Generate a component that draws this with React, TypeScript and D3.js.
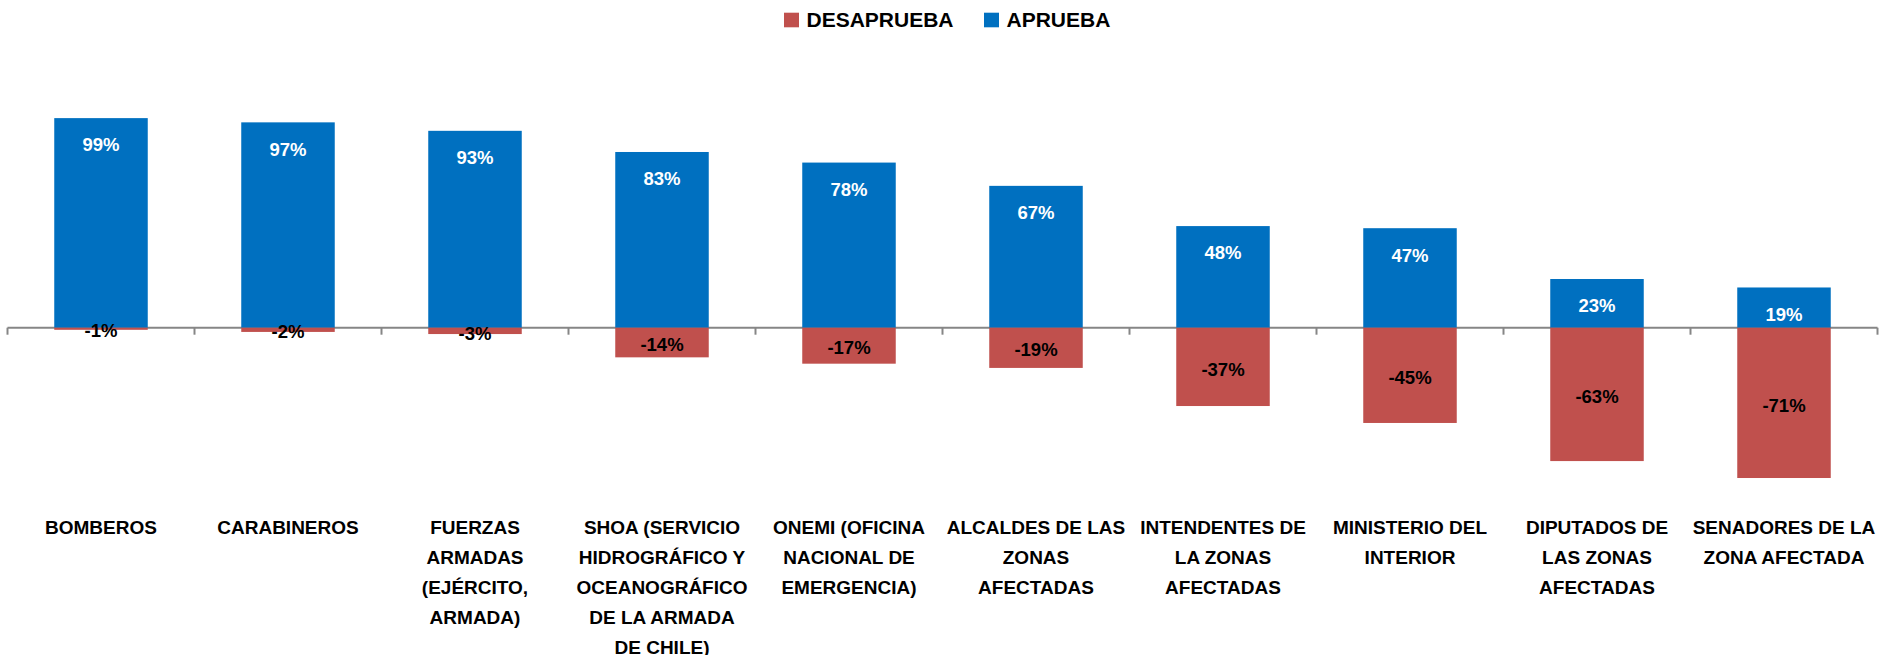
import React, { useRef, useEffect } from 'react';
import * as d3 from 'd3';

const categories = [
  'BOMBEROS',
  'CARABINEROS',
  'FUERZAS ARMADAS (EJÉRCITO, ARMADA)',
  'SHOA (SERVICIO HIDROGRÁFICO Y OCEANOGRÁFICO DE LA ARMADA DE CHILE)',
  'ONEMI (OFICINA NACIONAL DE EMERGENCIA)',
  'ALCALDES DE LAS ZONAS AFECTADAS',
  'INTENDENTES DE LA ZONAS AFECTADAS',
  'MINISTERIO DEL INTERIOR',
  'DIPUTADOS DE LAS ZONAS AFECTADAS',
  'SENADORES DE LA ZONA AFECTADA',
];

// wrapped tick labels, as they break in the picture
const tickLines = [
  ['BOMBEROS'],
  ['CARABINEROS'],
  ['FUERZAS', 'ARMADAS', '(EJÉRCITO,', 'ARMADA)'],
  ['SHOA (SERVICIO', 'HIDROGRÁFICO Y', 'OCEANOGRÁFICO', 'DE LA ARMADA', 'DE CHILE)'],
  ['ONEMI (OFICINA', 'NACIONAL DE', 'EMERGENCIA)'],
  ['ALCALDES DE LAS', 'ZONAS', 'AFECTADAS'],
  ['INTENDENTES DE', 'LA ZONAS', 'AFECTADAS'],
  ['MINISTERIO DEL', 'INTERIOR'],
  ['DIPUTADOS DE', 'LAS ZONAS', 'AFECTADAS'],
  ['SENADORES DE LA', 'ZONA AFECTADA'],
];

const aprueba = [99, 97, 93, 83, 78, 67, 48, 47, 23, 19];
const desaprueba = [-1, -2, -3, -14, -17, -19, -37, -45, -63, -71];

const seriesNames = ['DESAPRUEBA', 'APRUEBA'];
const BLUE = '#0070C0';
const RED = '#C0504D';

function App() {
  const svgRef = useRef<SVGSVGElement>(null);

  useEffect(() => {
    const width = 1879;
    const height = 655;
    const font = "'Liberation Sans', Arial, sans-serif";

    const svg = d3.select(svgRef.current);
    svg.selectAll('*').remove();
    svg.attr('width', width).attr('height', height).attr('viewBox', [0, 0, width, height]);

    const x = d3.scaleBand<number>()
      .domain(d3.range(categories.length))
      .range([7.5, 1877.5])
      .paddingInner(0.5)
      .paddingOuter(0.25);

    const y = d3.scaleLinear()
      .domain([-80, 100])
      .range([327.7 + 80 * 2.117, 327.7 - 100 * 2.117]);

    const step = x.step();
    const bw = x.bandwidth();
    const edge = (i: number) => (x(i) as number) - (step - bw) / 2;

    // axis line + ticks
    const axis = svg.append('g').attr('stroke', '#868686').attr('stroke-width', 2);
    axis.append('line')
      .attr('x1', edge(0)).attr('x2', edge(categories.length - 1) + step)
      .attr('y1', y(0)).attr('y2', y(0));
    axis.selectAll('line.tick')
      .data(d3.range(categories.length + 1))
      .join('line')
      .attr('class', 'tick')
      .attr('x1', i => (i < categories.length ? edge(i) : edge(i - 1) + step))
      .attr('x2', i => (i < categories.length ? edge(i) : edge(i - 1) + step))
      .attr('y1', y(0)).attr('y2', y(0) + 7);

    // positive bars
    svg.append('g').attr('fill', BLUE)
      .selectAll('rect')
      .data(aprueba)
      .join('rect')
      .attr('x', (d, i) => x(i) as number)
      .attr('width', bw)
      .attr('y', d => y(d))
      .attr('height', d => y(0) - y(d));

    // negative bars
    svg.append('g').attr('fill', RED)
      .selectAll('rect')
      .data(desaprueba)
      .join('rect')
      .attr('x', (d, i) => x(i) as number)
      .attr('width', bw)
      .attr('y', y(0))
      .attr('height', d => y(d) - y(0));

    // labels
    svg.append('g')
      .attr('text-anchor', 'middle')
      .attr('font-family', font)
      .attr('font-weight', 'bold')
      .attr('font-size', 18.5)
      .attr('fill', '#fff')
      .selectAll('text')
      .data(aprueba)
      .join('text')
      .attr('x', (d, i) => (x(i) as number) + bw / 2)
      .attr('y', d => y(d) + 26.7)
      .attr('dy', '0.36em')
      .text(d => `${d}%`);

    svg.append('g')
      .attr('text-anchor', 'middle')
      .attr('font-family', font)
      .attr('font-weight', 'bold')
      .attr('font-size', 18.5)
      .attr('fill', '#000')
      .selectAll('text')
      .data(desaprueba)
      .join('text')
      .attr('x', (d, i) => (x(i) as number) + bw / 2)
      .attr('y', d => (y(0) + y(d)) / 2 + 2)
      .attr('dy', '0.36em')
      .text(d => `${d}%`);

    // category labels
    const cat = svg.append('g')
      .attr('text-anchor', 'middle')
      .attr('font-family', font)
      .attr('font-weight', 'bold')
      .attr('font-size', 19)
      .attr('fill', '#000');
    tickLines.forEach((lines, i) => {
      const cx = (x(i) as number) + bw / 2;
      cat.append('g')
        .selectAll('text')
        .data(lines)
        .join('text')
        .attr('x', cx)
        .attr('y', (d, k) => 527.5 + k * 30)
        .attr('dy', '0.36em')
        .text(d => d);
    });

    // legend
    const legend = svg.append('g')
      .attr('font-family', font)
      .attr('font-weight', 'bold')
      .attr('font-size', 21);
    const legendX = [784, 984];
    const legendColors = [RED, BLUE];
    seriesNames.forEach((name, i) => {
      legend.append('rect')
        .attr('x', legendX[i]).attr('y', 12.7)
        .attr('width', 15).attr('height', 14.6)
        .attr('fill', legendColors[i]);
      legend.append('text')
        .attr('x', legendX[i] + 22.5)
        .attr('y', 19.8)
        .attr('dy', '0.36em')
        .text(name);
    });
  }, []);

  return (
    <div style={{ position: 'absolute', left: 0, top: 0 }}>
      <svg ref={svgRef} style={{ display: 'block' }}></svg>
    </div>
  );
}

export default App;
